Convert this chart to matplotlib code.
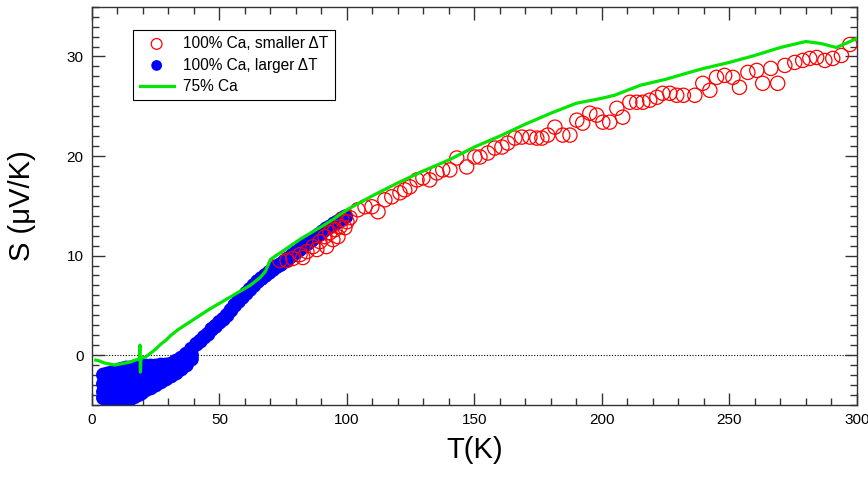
import matplotlib
matplotlib.use("Agg")
import matplotlib.pyplot as plt
from matplotlib.ticker import MultipleLocator

plt.rcParams["font.family"] = ["Liberation Sans", "DejaVu Sans"]

# 75% Ca, continuous curve
green_T = [1.5, 3, 5, 7, 9, 11, 13, 15, 17, 18.5, 18.8, 19.0, 19.2, 21, 23, 25, 27,
           29, 31, 34, 37, 40, 43, 46, 50, 54, 58, 62, 66, 68, 70, 74, 78, 82, 86,
           90, 95, 100, 110, 120, 130, 140, 150, 160, 170, 180, 190, 200, 205, 215,
           225, 233, 240, 250, 260, 270, 280, 286, 292, 300]
green_S = [-0.5, -0.6, -0.8, -0.9, -1.0, -0.9, -0.8, -0.7, -0.5, -0.4, 1.0, -1.7, -0.3,
           -0.2, 0.2, 0.6, 1.1, 1.5, 2.0, 2.6, 3.1, 3.6, 4.1, 4.6, 5.2, 5.8, 6.4, 7.0,
           7.8, 8.4, 9.6, 10.3, 11.0, 11.7, 12.3, 12.9, 13.7, 14.6, 16.0, 17.3, 18.5,
           19.6, 20.9, 22.0, 23.2, 24.3, 25.3, 25.8, 26.1, 27.1, 27.7, 28.3, 28.8,
           29.4, 30.1, 30.9, 31.5, 31.3, 30.9, 31.8]

# 100% Ca, smaller dT (open circles)
red_T = [73.7, 76.5, 78.8, 81.6, 82.7, 84.3, 86.7, 88.2, 89.4, 91.4, 92.0, 93.3, 94.5,
         95.3, 96.5, 97.3, 98.0, 99.2, 100.0, 101.2, 104.3, 107.1, 109.8, 112.2, 114.9,
         117.6, 120.8, 122.7, 124.7, 127.5, 129.8, 132.5, 135.3, 137.6, 140.4, 143.1,
         147.0, 150.2, 152.2, 155.3, 158.0, 160.8, 163.1, 165.9, 168.6, 171.8, 174.5,
         176.5, 178.8, 181.6, 184.7, 187.5, 190.2, 192.5, 195.3, 198.0, 200.4, 203.1,
         205.9, 208.2, 211.0, 213.7, 216.1, 218.8, 221.6, 223.9, 226.7, 229.4, 232.0,
         236.5, 239.6, 242.4, 245.0, 248.2, 251.4, 254.0, 257.3, 260.8, 263.1, 266.3,
         269.0, 271.8, 275.7, 278.8, 281.6, 284.3, 287.5, 290.6, 294.0, 297.3]
red_S = [9.5, 9.5, 9.7, 10.1, 9.8, 10.4, 10.9, 10.6, 11.4, 11.9, 10.9, 12.3, 11.6,
         12.6, 11.9, 12.9, 13.6, 12.8, 13.4, 13.8, 14.6, 14.9, 14.9, 14.4, 15.6,
         15.9, 16.3, 16.6, 16.9, 17.6, 17.8, 17.6, 18.3, 18.6, 18.6, 19.8,
         18.9, 19.9, 19.9, 20.3, 20.8, 20.9, 21.3, 21.8, 21.9, 21.9, 21.8,
         21.8, 22.1, 22.9, 22.1, 22.1, 23.6, 23.3, 24.3, 24.1, 23.4, 23.4,
         24.8, 23.9, 25.4, 25.4, 25.4, 25.6, 25.9, 26.3, 26.3, 26.1, 26.1,
         26.1, 27.3, 26.6, 27.9, 28.1, 27.9, 26.9, 28.4, 28.6, 27.3, 28.8,
         27.3, 29.1, 29.4, 29.6, 29.8, 29.9, 29.6, 29.8, 30.1, 31.2]

# 100% Ca, larger dT (filled) - low T blob, four rows
blue_low_T = [4.5, 6, 7.5, 9, 10.5, 12, 13.5, 15, 16.5, 18, 19.5]
blue_low_top = [-2.0, -1.9, -1.8, -1.7, -1.5, -1.4, -1.3, -1.3, -1.2, -1.2, -1.2]
blue_low_r2 = [-2.9, -2.9, -2.8, -2.7, -2.7, -2.6, -2.5, -2.5, -2.4, -2.4, -2.3]
blue_low_r3 = [-3.7, -3.8, -3.7, -3.6, -3.7, -3.6, -3.5, -3.4, -3.3, -3.2, -3.1]
blue_low_bot = [-4.3, -4.4, -4.3, -4.5, -4.8, -4.9, -4.7, -4.4, -4.2, -4.0, -3.8]

# mid range, three rows
blue_mid_T = [21, 23, 25, 27, 29, 31, 33, 35, 37, 39]
blue_mid_top = [-1.1, -1.1, -1.1, -1.0, -1.0, -0.9, -0.6, -0.3, 0.1, 0.6]
blue_mid_r2 = [-2.2, -2.1, -2.0, -1.9, -1.8, -1.6, -1.3, -1.0, -0.5, 0.0]
blue_mid_bot = [-3.5, -3.3, -3.0, -2.7, -2.4, -2.1, -1.8, -1.4, -1.0, -0.4]

# upper range, single band
blue_hi_T = [41, 42.5, 44, 45.5, 47, 48.5, 50, 51.5, 53, 54.5, 56, 57.5, 59, 60.5, 62,
             63.5, 65, 66.5, 68, 69.5, 71, 72.5, 74, 75.5, 77, 78.5, 80, 81.5, 83,
             84.5, 86, 87.5, 89, 90.5, 92, 93.5, 95, 96.5, 98, 99.5]
blue_hi_S = [1.1, 1.4, 1.8, 2.1, 2.6, 2.9, 3.3, 3.6, 4.0, 4.5, 5.0, 5.4, 5.8, 6.2, 6.6,
             7.0, 7.4, 7.7, 8.0, 8.3, 8.6, 8.9, 9.1, 9.4, 9.7, 10.0, 10.3, 10.6, 10.9,
             11.2, 11.5, 11.8, 12.1, 12.4, 12.7, 12.9, 13.2, 13.4, 13.7, 13.9]

blue_T = blue_low_T * 4 + blue_mid_T * 3 + blue_hi_T
blue_S = (blue_low_top + blue_low_r2 + blue_low_r3 + blue_low_bot
          + blue_mid_top + blue_mid_r2 + blue_mid_bot + blue_hi_S)

fig = plt.figure(figsize=(8.68, 4.78), dpi=100)
ax = fig.add_axes([0.106, 0.153, 0.881, 0.833])

ax.axhline(0, color="black", lw=0.8, ls=(0, (1, 1.5)), zorder=1)
ax.scatter(blue_T, blue_S, s=115, color="#0000ff", edgecolors="none",
           label="100% Ca, larger \u0394T", zorder=2)
ax.scatter(red_T, red_S, s=105, facecolors="none", edgecolors="#ff0000",
           linewidths=0.9, label="100% Ca, smaller \u0394T", zorder=3)
ax.plot(green_T, green_S, color="#00e600", lw=2.3, label="75% Ca", zorder=4)

ax.set_xlim(0, 300)
ax.set_ylim(-5, 35)
ax.xaxis.set_major_locator(MultipleLocator(50))
ax.xaxis.set_minor_locator(MultipleLocator(10))
ax.yaxis.set_major_locator(MultipleLocator(10))
ax.yaxis.set_minor_locator(MultipleLocator(1))
ax.tick_params(which="both", direction="in", top=True, right=True,
               labelsize=11, color="#333333", pad=6)
ax.tick_params(which="major", length=9, width=1)
ax.tick_params(which="minor", length=5, width=1)
for sp in ax.spines.values():
    sp.set_color("#333333")
    sp.set_linewidth(1)

ax.set_xlabel("T(K)", fontsize=21, labelpad=6)
ax.set_ylabel("S (\u03bcV/K)", fontsize=21, labelpad=22)

handles, labels = ax.get_legend_handles_labels()
order = [1, 0, 2]
leg = ax.legend([handles[i] for i in order], [labels[i] for i in order],
                loc="upper left", bbox_to_anchor=(0.054, 0.942), borderaxespad=0,
                fontsize=11.2, frameon=True, fancybox=False, framealpha=1,
                edgecolor="black", handlelength=2.2, labelspacing=0.42,
                handletextpad=0.6, borderpad=0.4)
leg.get_frame().set_linewidth(0.8)
for h in leg.legend_handles[:2]:
    h.set_sizes([60])

fig.savefig("out.png", dpi=100)
